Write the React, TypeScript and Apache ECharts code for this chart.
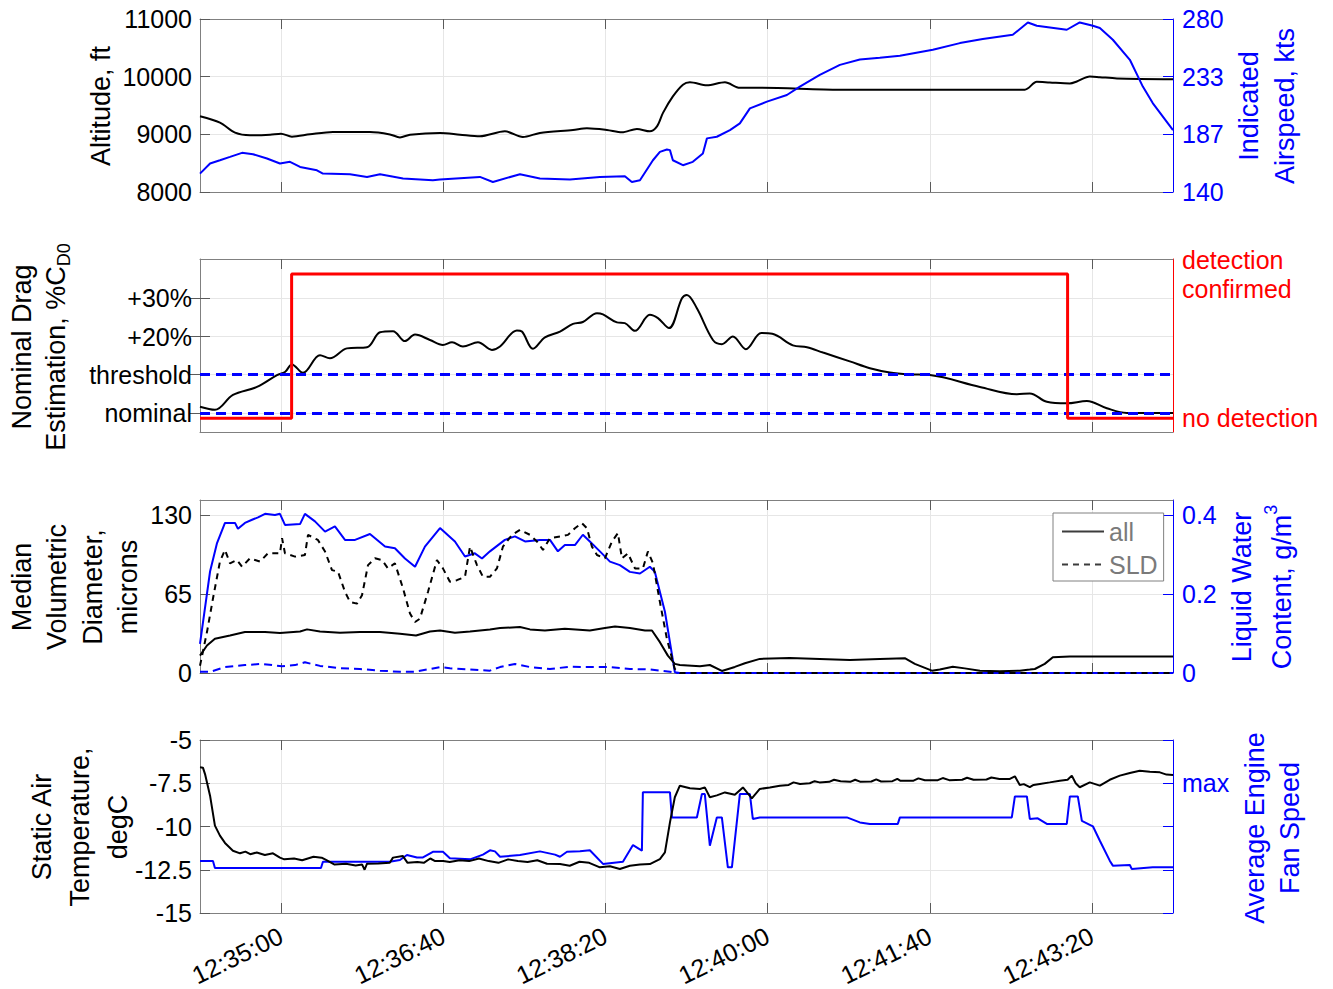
import React, { useEffect, useRef } from 'react';
import * as echarts from 'echarts';

// Time is stored as seconds after 12:34:10
const START_SEC = 12 * 3600 + 34 * 60 + 10;
const timeTicks = [50, 150, 250, 350, 450, 550];

// Panel 1: altitude (ft) and indicated airspeed (kts)
const altitude: number[][] = [
  [0, 9313], [12.3, 9203], [21.6, 9029], [30.8, 8982], [43.2, 8994], [49.9, 9012], [56.7, 8959],
  [67.8, 9000], [82, 9041], [104.8, 9041], [117.1, 8999], [123.3, 8947], [129.5, 8994], [148, 9024],
  [160.3, 8994], [172.6, 8965], [188, 9052], [199.1, 8953], [209.6, 9024], [230, 9076], [238.6, 9106],
  [250.9, 9076], [260.2, 9034], [269.4, 9093], [277.4, 9052], [281.8, 9139], [285.5, 9372], [291.6, 9657],
  [297.8, 9861], [302.1, 9902], [312.6, 9849], [323.7, 9902], [332.9, 9808], [345.2, 9808], [394.6, 9774],
  [508.6, 9774], [516, 9911], [524, 9899], [536.4, 9882], [540.7, 9917], [548.7, 10004], [554.9, 9992],
  [565.4, 9970], [600, 9957],
];
const airspeed: number[][] = [
  [0, 154.9], [6.2, 163.1], [12.3, 165.7], [18.5, 168.4], [25.9, 171.7], [32.7, 170.6], [41.3, 167.1],
  [49.3, 163.1], [55.5, 164.4], [61.7, 160.3], [72.1, 157.6], [75.8, 154.9], [92.5, 154.4], [103, 152.2],
  [111, 154.4], [125.2, 150.9], [143.6, 149.5], [148, 150.1], [172.6, 152.2], [180.6, 148.1], [197.3, 154.4],
  [209.6, 150.9], [228.1, 150.1], [246.6, 152.2], [262, 152.7], [266.3, 148.1], [271.3, 149.5], [279.3, 165.7],
  [283.6, 172.5], [287.9, 174.4], [289.8, 173.9], [291.6, 165.7], [297.8, 161.7], [303.9, 164.4],
  [310.1, 171.2], [312.6, 183.4], [318.7, 184.7], [326.8, 190.1], [332.9, 195.5], [339.1, 207.7],
  [349.6, 213.1], [361.9, 218.5], [369.9, 225.3], [382.2, 234.8], [394.6, 242.9], [406.9, 247.2],
  [419.2, 248.6], [431.6, 250.2], [451.9, 255.1], [468.6, 260.5], [482.7, 263.8], [501.2, 267.2],
  [510.5, 277.2], [516, 274.5], [534.5, 271.3], [542.5, 277.2], [550.6, 274.5], [554.9, 272.7],
  [562.9, 263.2], [573.4, 247], [581.4, 225.3], [587.5, 212], [600, 190.1],
];

// Panel 2: nominal drag estimation (% above nominal) and detection state
const dragEstimate: number[][] = [
  [0, 1.6], [9.2, 0.8], [20.3, 4.7], [35.1, 6.8], [47.5, 9.9], [52.4, 10.7], [56.7, 12.7], [63.5, 10.5],
  [74, 15.1], [80.1, 14.3], [90.6, 16.9], [103, 17.2], [111, 21.1], [119, 21.4], [126.4, 18.8], [132.6, 20.5],
  [141.8, 19.1], [149.8, 17.8], [155.4, 18.5], [162.1, 17.4], [171.4, 18.5], [180, 16.5], [185, 17.4],
  [195.4, 21.6], [198.5, 21.3], [205.3, 16.8], [212.7, 19.8], [222, 21.3], [230, 23.3], [236.1, 23.8],
  [244.8, 26.1], [248.5, 25.8], [257.1, 23.7], [262, 23.5], [268.2, 21.5], [277.4, 25.7], [282.4, 24.8],
  [289.2, 22.2], [297.2, 30.0], [300.2, 30.9], [306.4, 27.4], [316.3, 19.1], [321.8, 18], [328.6, 20],
  [336.6, 16.7], [346.1, 20.9], [352.9, 20.7], [365.6, 17.7], [374.3, 17.2], [384.2, 15.8], [400.7, 13.5],
  [413.1, 11.7], [425.4, 10.6], [437.7, 10.1], [450.1, 9.9], [480.9, 6.8], [503.7, 4.9], [511.7, 5.1],
  [522.2, 2.9], [534.5, 2.5], [546.9, 3.1], [559.2, 1.2], [571.5, 0], [600, 0],
];
const detectionState: number[][] = [[0, 0], [56.5, 1], [535, 0], [600, 0]];
const nominalLevel = 0;
const thresholdLevel = 10;
const dragTicks = [0, 10, 20, 30];
const dragTickLabels = ['nominal', 'threshold', '+20%', '+30%'];
const detectionTicks = [0, 1];
const detectionLabels = ['no detection', 'detection\nconfirmed'];

// Panel 3: median volumetric diameter (microns) and liquid water content (g/m3)
const mvdAll: number[][] = [
  [0, 14.3], [4.3, 22.6], [9.2, 28.2], [18.5, 30.9], [27.7, 33.7], [40.1, 33.7], [49.3, 32.9], [61.7, 34.2],
  [66, 35.9], [74, 34.2], [86.3, 33.1], [98.6, 33.7], [111, 33.7], [123.3, 32.3], [133.2, 30.9], [141.8, 34.2],
  [148, 35], [157.2, 33.1], [166.5, 34.2], [178.8, 35.9], [185, 37], [197.3, 37.8], [203.5, 35.9], [212.7, 35],
  [225, 36.4], [240.4, 35], [249.7, 37], [255.9, 38.3], [265.1, 37], [274.4, 35], [278.7, 35], [283.6, 25.4],
  [288.5, 14.3], [292.8, 7.5], [295.9, 6.6], [308.3, 5.5], [314.4, 6.6], [321.8, 1.7], [329.8, 5],
  [336, 8], [345.2, 11.6], [363.7, 12.4], [382.2, 11.6], [400.7, 10.8], [419.2, 11.6], [434.6, 12.2],
  [440.8, 7.5], [451.3, 1.9], [456.2, 2.8], [464.2, 5.2], [471.6, 3.8], [480.9, 1.9], [493.2, 1.4],
  [505.5, 1.9], [511.7, 2.8], [514.8, 3.3], [520.9, 7.5], [525.9, 13], [536.4, 13.5], [600, 13.5],
];
const mvdSld: number[][] = [
  [0, 6], [4.3, 33.7], [8, 61.3], [12.3, 91.7], [15.4, 101.3], [18.5, 90.3], [22.8, 93], [25.9, 87.5],
  [30.8, 94.4], [37, 91.7], [41.9, 98.5], [49.3, 98.5], [50.6, 111], [52.4, 98.5], [58.6, 95.8], [64.7, 97.1],
  [66.6, 113.7], [72.7, 109.5], [77.1, 100], [81.4, 84.7], [85.1, 83.4], [89.4, 66.8], [92.5, 58.5],
  [96.8, 57.1], [99.9, 64], [103.6, 88.8], [107.9, 94.4], [112.2, 93], [115.9, 86.1], [120.2, 90.3],
  [125.2, 69.6], [129.5, 48.9], [132.6, 42], [135.6, 44.7], [140.6, 66.8], [146.1, 93], [149.8, 86.1],
  [154.1, 75.1], [158.4, 76.4], [163.4, 79.2], [166.5, 104], [170.8, 88.8], [174.5, 79.2], [178.8, 79.2],
  [183.1, 86.1], [186.8, 104], [192.4, 113.7], [197.3, 117.8], [203.5, 113.7], [207.8, 108.2], [211.5, 101.3],
  [215.8, 111], [222, 112.3], [226.9, 113.7], [231.2, 119.2], [235.5, 123.4], [238.6, 119.2], [241.7, 104],
  [244.8, 97.1], [249.7, 94.4], [254, 108.2], [257.7, 115.1], [260.2, 94.4], [263.9, 98.5], [268.2, 86.1],
  [273.1, 86.1], [276.2, 100], [279.3, 90.3], [283.6, 58.5], [287.9, 28.2], [292.8, 3.3], [295.9, 0], [600, 0],
];
const lwcAll: number[][] = [
  [0, 0.074], [6.2, 0.257], [10.5, 0.329], [15.4, 0.38], [21.6, 0.38], [23.4, 0.365], [27.7, 0.38],
  [32.1, 0.388], [35.8, 0.394], [40.1, 0.403], [46.2, 0.4], [49.3, 0.403], [52.4, 0.375], [61.7, 0.377],
  [64.7, 0.403], [70.9, 0.384], [77.1, 0.358], [83.2, 0.371], [89.4, 0.337], [95.6, 0.337], [104.8, 0.352],
  [114.1, 0.32], [120.2, 0.316], [126.4, 0.29], [132.6, 0.269], [138.7, 0.32], [148, 0.367], [157.2, 0.333],
  [163.4, 0.295], [169.5, 0.303], [173.9, 0.29], [178.8, 0.308], [188, 0.337], [194.2, 0.346], [200.4, 0.333],
  [209.6, 0.337], [215.8, 0.337], [220.7, 0.308], [225, 0.324], [231.2, 0.324], [236.1, 0.35], [240.4, 0.333],
  [246.6, 0.308], [252.8, 0.282], [258.9, 0.273], [265.1, 0.256], [271.3, 0.252], [277.4, 0.269],
  [280.5, 0.256], [286.7, 0.155], [292.8, 0.002], [295.9, 0], [600, 0],
];
const lwcSld: number[][] = [
  [0, 0.003], [6.2, 0.003], [15.4, 0.015], [27.7, 0.02], [38.2, 0.023], [50.6, 0.017], [58.6, 0.02],
  [64.7, 0.027], [74, 0.018], [86.3, 0.012], [98.6, 0.01], [111, 0.006], [123.3, 0.003], [132.6, 0.003],
  [148, 0.015], [154.1, 0.012], [166.5, 0.009], [178.8, 0.006], [185, 0.015], [194.2, 0.023], [203.5, 0.015],
  [215.8, 0.01], [228.1, 0.016], [237.4, 0.015], [252.8, 0.015], [265.1, 0.01], [277.4, 0.009],
  [289.8, 0.003], [294.1, 0], [600, 0],
];

// Panel 4: static air temperature (degC) and engine fan speed (fraction of max)
const temperature: number[][] = [
  [0, -6.58], [1.8, -6.6], [3.1, -6.97], [6.2, -8.22], [9.2, -9.95], [12.3, -10.53], [15.4, -10.95],
  [20.3, -11.4], [24.7, -11.55], [28, -11.45], [31, -11.6], [35, -11.5], [40, -11.65], [45, -11.55],
  [49.3, -11.8], [52, -11.9], [58, -11.85], [63, -11.95], [70, -11.75], [75, -11.8], [78, -11.95],
  [83, -12.2], [90, -12.15], [96, -12.25], [100, -12.2], [101.5, -12.5], [103, -12.15], [110, -12.14],
  [117, -12.1], [119, -11.8], [125, -11.7], [128, -12.1], [134, -12.05], [138, -12.1], [142, -11.85],
  [145, -12.0], [150, -12.0], [154, -12.05], [160, -11.95], [166, -12.0], [172, -11.85], [178, -12.0],
  [184, -12.1], [190, -11.9], [196, -12.0], [202, -12.05], [208, -11.95], [214, -12.15], [222, -12.17],
  [228, -12.27], [234, -12.04], [240, -12.1], [246.6, -12.36], [252.8, -12.3], [258.9, -12.46],
  [265.1, -12.27], [271.3, -12.2], [277.4, -12.17], [283.6, -11.88], [286.7, -11.5], [289.8, -9.76],
  [292.8, -8.31], [295.9, -7.64], [302.1, -7.79], [308.3, -7.83], [311.3, -7.74], [314.4, -8.31],
  [318.7, -8.2], [323.7, -8.03], [329.8, -8.17], [334.8, -7.74], [340.3, -8.37], [345.2, -7.83],
  [351.4, -7.74], [357.6, -7.64], [363, -7.6], [366, -7.45], [370, -7.54], [376, -7.5], [379, -7.38],
  [382, -7.45], [388, -7.42], [391, -7.3], [395, -7.39], [401, -7.42], [404, -7.3], [407, -7.41],
  [414, -7.4], [417, -7.28], [420, -7.4], [427, -7.38], [430, -7.25], [432, -7.36], [440, -7.35],
  [443, -7.22], [447, -7.33], [455, -7.32], [458, -7.2], [462, -7.32], [470, -7.3], [473, -7.18],
  [477, -7.3], [485, -7.28], [488, -7.17], [493, -7.25], [499.4, -7.25], [502.5, -7.1], [505.5, -7.6],
  [508, -7.55], [511.7, -7.73], [514, -7.6], [517.9, -7.54], [524, -7.45], [530.2, -7.35], [535, -7.3],
  [537.6, -7.06], [540, -7.5], [542.5, -7.73], [548.7, -7.45], [554.9, -7.64], [561, -7.3], [567.2, -7.06],
  [573.4, -6.91], [579.5, -6.78], [585.7, -6.84], [591.9, -6.87], [596, -7.0], [600, -7.02],
];
const fanSpeed: number[][] = [
  [0, 0.64], [8, 0.64], [9.2, 0.608], [74.6, 0.608], [75.8, 0.637], [117, 0.637], [123.3, 0.645],
  [127.6, 0.668], [133.8, 0.657], [137.5, 0.657], [143.6, 0.683], [149.8, 0.683], [154.1, 0.653],
  [166.5, 0.648], [174.5, 0.67], [178.8, 0.69], [181.9, 0.685], [185, 0.66], [197.3, 0.668], [209.6, 0.685],
  [218.9, 0.67], [222, 0.66], [226.3, 0.683], [234.3, 0.686], [240.4, 0.69], [248.5, 0.627], [260.8, 0.637],
  [267, 0.714], [272.5, 0.688], [273.1, 0.958], [289.8, 0.958], [291, 0.842], [306.4, 0.842], [309.5, 0.95],
  [311.3, 0.95], [314.4, 0.711], [318.7, 0.842], [321.8, 0.842], [325.5, 0.611], [328, 0.611], [332.9, 0.95],
  [339.1, 0.95], [340.9, 0.835], [345.2, 0.842], [398.9, 0.842], [406.9, 0.819], [413.1, 0.812],
  [430.3, 0.812], [431.6, 0.842], [500.6, 0.842], [502.5, 0.939], [509.9, 0.939], [511.7, 0.835],
  [516.6, 0.838], [522.2, 0.812], [534.5, 0.812], [536.4, 0.939], [541.3, 0.939], [543.8, 0.826],
  [550.6, 0.801], [554.9, 0.734], [561, 0.642], [562.9, 0.619], [573.4, 0.622], [574.6, 0.603],
  [587.5, 0.611], [600, 0.611],
];

const FONT = '"Liberation Sans", Arial, Helvetica, sans-serif';
const BLUE = '#0000ff';
const RED = '#ff0000';
const FRAME = '#808080';
const TICK = '#5a5a5a';
const GRIDLINE = '#e6e6e6';
const GRID_TOPS = [19, 259, 500, 740];
const GRID_H = 173;

const pad2 = (n: number) => (n < 10 ? '0' + n : '' + n);
const formatTime = (t: number) => {
  const s = START_SEC + Math.round(t);
  return `${Math.floor(s / 3600)}:${pad2(Math.floor((s % 3600) / 60))}:${pad2(s % 60)}`;
};

function buildXAxes() {
  const axes: any[] = [];
  GRID_TOPS.forEach((_, i) => {
    axes.push({
      type: 'value', gridIndex: i, position: 'bottom', min: 0, max: 600,
      axisLine: { show: true, onZero: false, lineStyle: { color: FRAME, width: 1 } },
      axisTick: { show: true, inside: true, length: 10, customValues: timeTicks, lineStyle: { color: TICK } },
      axisLabel: {
        show: i === 3, customValues: timeTicks, rotate: 26, margin: 21, fontSize: 25, color: '#000',
        fontFamily: FONT, formatter: (v: number) => formatTime(v),
      },
      splitLine: { show: true, lineStyle: { color: GRIDLINE, width: 1 } },
    });
    axes.push({
      type: 'value', gridIndex: i, position: 'top', min: 0, max: 600,
      axisLine: { show: true, onZero: false, lineStyle: { color: FRAME, width: 1 } },
      axisTick: { show: true, inside: true, length: 10, customValues: timeTicks, lineStyle: { color: TICK } },
      axisLabel: { show: false },
      splitLine: { show: false },
    });
  });
  return axes;
}

const leftLabel = { fontSize: 25, color: '#000', margin: 8, fontFamily: FONT, formatter: (v: number) => String(v) };
const leftLine = { show: true, onZero: false, lineStyle: { color: FRAME, width: 1 } };
const leftTick = { show: true, inside: true, length: 10, lineStyle: { color: TICK } };
const gridSplit = { show: true, lineStyle: { color: GRIDLINE, width: 1 } };

function rightAxis(gridIndex: number, color: string, extra: any) {
  return {
    type: 'value', gridIndex, position: 'right',
    axisLine: { show: true, onZero: false, lineStyle: { color, width: 1 } },
    axisTick: { show: true, inside: true, length: 10, lineStyle: { color } },
    splitLine: { show: false },
    ...extra,
    axisLabel: { fontSize: 25, color, margin: 9, fontFamily: FONT, ...(extra.axisLabel || {}) },
  };
}

const yAxes: any[] = [
  // 0: altitude
  { type: 'value', gridIndex: 0, position: 'left', min: 8000, max: 11000, interval: 1000,
    axisLine: leftLine, axisTick: leftTick, axisLabel: leftLabel, splitLine: gridSplit },
  // 1: airspeed
  rightAxis(0, BLUE, { min: 140, max: 280, interval: 140 / 3, axisLabel: { formatter: (v: number) => String(Math.round(v)) } }),
  // 2: drag estimation
  { type: 'value', gridIndex: 1, position: 'left', min: -5, max: 40.3,
    axisLine: leftLine,
    axisTick: { ...leftTick, customValues: dragTicks },
    axisLabel: { ...leftLabel, customValues: dragTicks,
      formatter: (v: number) => dragTickLabels[dragTicks.indexOf(Math.round(v))] ?? '' },
    splitLine: gridSplit },
  // 3: detection state
  { type: 'value', gridIndex: 1, position: 'right', min: -0.095, max: 1.104,
    axisLine: { show: true, onZero: false, lineStyle: { color: RED, width: 1 } },
    axisTick: { show: false },
    axisLabel: { customValues: detectionTicks, fontSize: 25, color: RED, margin: 9, lineHeight: 29, fontFamily: FONT,
      formatter: (v: number) => detectionLabels[detectionTicks.indexOf(Math.round(v))] ?? '' },
    splitLine: { show: false } },
  // 4: mirrored drag ticks on the right edge
  { type: 'value', gridIndex: 1, position: 'right', min: -5, max: 40.3,
    axisLine: { show: false },
    axisTick: { show: true, inside: true, length: 10, customValues: dragTicks, lineStyle: { color: TICK } },
    axisLabel: { show: false }, splitLine: { show: false } },
  // 5: MVD
  { type: 'value', gridIndex: 2, position: 'left', min: 0, max: 142.4, interval: 65,
    axisLine: leftLine, axisTick: leftTick, axisLabel: { ...leftLabel, showMaxLabel: false }, splitLine: gridSplit },
  // 6: LWC
  rightAxis(2, BLUE, { min: 0, max: 0.438, interval: 0.2, axisLabel: { showMaxLabel: false } }),
  // 7: temperature
  { type: 'value', gridIndex: 3, position: 'left', min: -15, max: -5, interval: 2.5,
    axisLine: leftLine, axisTick: leftTick, axisLabel: leftLabel, splitLine: gridSplit },
  // 8: fan speed, fraction of max
  rightAxis(3, BLUE, { min: 0.4, max: 1.2, interval: 0.2,
    axisLabel: { formatter: (v: number) => (Math.abs(v - 1) < 1e-6 ? 'max' : '') } }),
];

const lineSeries = (name: string, data: number[][], xAxisIndex: number, yAxisIndex: number,
  color: string, width: number, extra: any = {}) => ({
  type: 'line', name, data, xAxisIndex, yAxisIndex, symbol: 'none', showSymbol: false,
  itemStyle: { color }, lineStyle: { color, width, ...(extra.lineStyle || {}) },
  ...extra,
});

const titleStyle = (text: string, fill: string, lineHeight: number, rich?: any) => ({
  text, fill, fontSize: 27, fontFamily: FONT, align: 'center', verticalAlign: 'middle', lineHeight,
  ...(rich ? { rich } : {}),
});

// Legend entries draw only the line sample, no marker
const hiddenMarker = { color: 'rgba(0,0,0,0)', borderColor: 'rgba(0,0,0,0)', borderWidth: 0, opacity: 0 };

export default function App() {
  const ref = useRef<HTMLDivElement>(null);

  useEffect(() => {
    if (!ref.current) return;
    const chart = echarts.init(ref.current, undefined, { renderer: 'svg' });
    const option: any = {
      animation: false,
      backgroundColor: '#ffffff',
      textStyle: { fontFamily: FONT },
      grid: GRID_TOPS.map((top) => ({
        left: 200, right: 160, top, height: GRID_H, containLabel: false, outerBoundsMode: 'none',
      })),
      xAxis: buildXAxes(),
      yAxis: yAxes,
      legend: {
        show: true, left: 1053, top: 513, orient: 'vertical',
        padding: [6, 6, 4, 8], itemGap: 8, itemWidth: 42, itemHeight: 16,
        borderColor: FRAME, borderWidth: 1, backgroundColor: '#ffffff',
        textStyle: { color: '#7a7a7a', fontSize: 25, fontFamily: FONT },
        data: [
          { name: 'all', itemStyle: hiddenMarker, lineStyle: { color: '#3c3c3c', width: 2 } },
          { name: 'SLD', itemStyle: hiddenMarker, lineStyle: { color: '#3c3c3c', width: 2, type: [6, 5] } },
        ],
      },
      series: [
        lineSeries('Altitude', altitude, 0, 0, '#000', 2, { smooth: 0.3 }),
        lineSeries('Indicated airspeed', airspeed, 0, 1, BLUE, 2),
        lineSeries('Drag estimation', dragEstimate, 2, 2, '#000', 2, {
          smooth: 0.35,
          markLine: {
            silent: true, symbol: ['none', 'none'], label: { show: false },
            lineStyle: { color: BLUE, width: 3, type: [10, 6] },
            data: [{ yAxis: nominalLevel }, { yAxis: thresholdLevel }],
          },
        }),
        lineSeries('Detection', detectionState, 2, 3, RED, 3, { step: 'end', z: 5 }),
        lineSeries('LWC all', lwcAll, 4, 6, BLUE, 2),
        lineSeries('LWC SLD', lwcSld, 4, 6, BLUE, 2, { lineStyle: { type: [8, 5] } }),
        lineSeries('all', mvdAll, 4, 5, '#000', 2),
        lineSeries('SLD', mvdSld, 4, 5, '#000', 2, { lineStyle: { type: [6, 5] } }),
        lineSeries('Fan speed', fanSpeed, 6, 8, BLUE, 2),
        lineSeries('Static air temperature', temperature, 6, 7, '#000', 2),
      ],
      graphic: [
        { type: 'text', x: 101, y: 106, rotation: Math.PI / 2, style: titleStyle('Altitude, ft', '#000', 34) },
        { type: 'text', x: 1267, y: 106, rotation: Math.PI / 2,
          style: titleStyle('Indicated\nAirspeed, kts', BLUE, 36) },
        { type: 'text', x: 39, y: 347, rotation: Math.PI / 2,
          style: titleStyle('Nominal Drag\nEstimation, %C{sub|D0}', '#000', 34, {
            sub: { fontSize: 18, fontFamily: FONT, fill: '#000', verticalAlign: 'bottom', lineHeight: 18 },
          }) },
        { type: 'text', x: 75, y: 587, rotation: Math.PI / 2,
          style: titleStyle('Median\nVolumetric\nDiameter,\nmicrons', '#000', 35.5) },
        { type: 'text', x: 1262, y: 587, rotation: Math.PI / 2,
          style: titleStyle('Liquid Water\nContent, g/m{sup|3}', BLUE, 40, {
            sup: { fontSize: 18, fontFamily: FONT, fill: BLUE, verticalAlign: 'top', lineHeight: 18 },
          }) },
        { type: 'text', x: 80, y: 827, rotation: Math.PI / 2,
          style: titleStyle('Static Air\nTemperature,\ndegC', '#000', 38) },
        { type: 'text', x: 1272, y: 828, rotation: Math.PI / 2,
          style: titleStyle('Average Engine\nFan Speed', BLUE, 35) },
      ],
    };
    chart.setOption(option);
    return () => chart.dispose();
  }, []);

  return (
    <div
      ref={ref}
      style={{ position: 'absolute', left: 0, top: 0, width: 1333, height: 989, background: '#ffffff' }}
    />
  );
}
